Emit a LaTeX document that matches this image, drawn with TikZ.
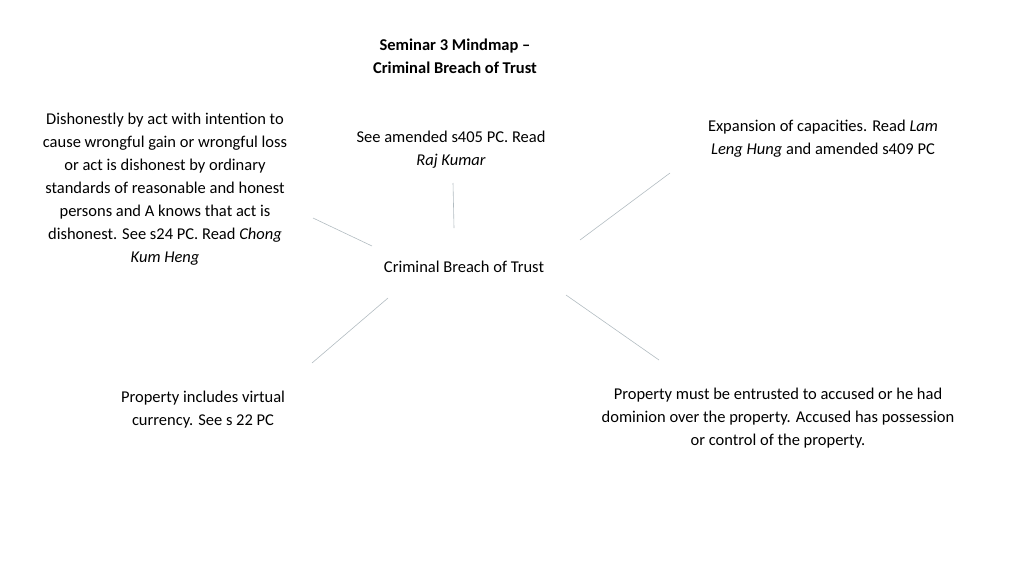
\documentclass[tikz,border=0pt]{standalone}
\usepackage{fontspec}
\setmainfont{Carlito}
\begin{document}
\begin{tikzpicture}[x=1pt,y=-1pt,
  txt/.style={align=center,font=\fontsize{16.5}{23}\selectfont,inner sep=0pt},
  link/.style={draw=black!30!cyan!20!gray!60,line width=0.6pt}]
\useasboundingbox (0,0) rectangle (1024,576);
\node[txt,font=\bfseries\fontsize{16.5}{23}\selectfont] (title) at (455,56) {Seminar 3 Mindmap --\\Criminal Breach of Trust};
\node[txt] (center) at (464,267) {Criminal Breach of Trust};
\node[txt] (dis) at (165,189) {Dishonestly by act with intention to\\cause wrongful gain or wrongful loss\\or act is dishonest by ordinary\\standards of reasonable and honest\\persons and A knows that act is\\dishonest. See s24 PC. Read \textit{Chong}\\\textit{Kum Heng}};
\node[txt] (raj) at (451,150) {See amended s405 PC. Read\\\textit{Raj Kumar}};
\node[txt] (exp) at (823,139) {Expansion of capacities. Read \textit{Lam}\\\textit{Leng Hung} and amended s409 PC};
\node[txt] (prop) at (203,410) {Property includes virtual\\currency. See s 22 PC};
\node[txt] (ent) at (778,418) {Property must be entrusted to accused or he had\\dominion over the property. Accused has possession\\or control of the property.};
\coordinate (a1) at (313,218); \coordinate (a2) at (372,246);
\coordinate (b1) at (453,183); \coordinate (b2) at (454,228);
\coordinate (c1) at (580,240); \coordinate (c2) at (670,173);
\coordinate (d1) at (388,298); \coordinate (d2) at (312,363);
\coordinate (e1) at (566,295); \coordinate (e2) at (659,360);
\draw[link] (a1) -- (a2);
\draw[link] (b1) -- (b2);
\draw[link] (c1) -- (c2);
\draw[link] (d1) -- (d2);
\draw[link] (e1) -- (e2);
\end{tikzpicture}
\end{document}
